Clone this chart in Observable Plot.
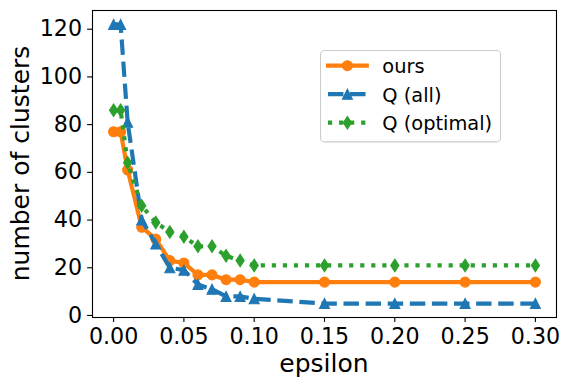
<!DOCTYPE html>
<html><head><meta charset="utf-8">
<script src="https://cdn.jsdelivr.net/npm/d3@7"></script>
<script src="https://cdn.jsdelivr.net/npm/@observablehq/plot@0.6"></script>
<style>body{margin:0;background:#fff} #chart{width:570px;height:387px}</style>
</head><body><div id="chart"></div>
<script>
// ---- data ----
const epsilon = [0, 0.005, 0.01, 0.02, 0.03, 0.04, 0.05, 0.06, 0.07, 0.08, 0.09, 0.1, 0.15, 0.2, 0.25, 0.3];
const ours = [77, 77, 61, 37, 32, 23, 22, 17, 17, 15, 15, 14, 14, 14, 14, 14];
const qAll = [122, 122, 81, 40, 30, 20, 19, 13, 11, 8, 8, 7, 5, 5, 5, 5];
const qOptimal = [86, 86, 64, 46, 39, 35, 33, 29, 29, 25, 23, 21, 21, 21, 21, 21];
const seriesNames = ["ours", "Q (all)", "Q (optimal)"];
const xTicks = [0, 0.05, 0.1, 0.15, 0.2, 0.25, 0.3];
const yTicks = [0, 20, 40, 60, 80, 100, 120];
const xLabel = "epsilon";
const yLabel = "number of clusters";

// ---- styles ----
const W = 570, H = 387;
const mL = 92, mR = 14, mT = 10, mB = 70;
const LW = 4.17;
const TICKFS = 22.2, LABELFS = 25, LEGFS = 19.4;
const tri = {draw(ctx, size){ const h = Math.sqrt(size/Math.PI); ctx.moveTo(0,-h); ctx.lineTo(h,h); ctx.lineTo(-h,h); ctx.closePath(); }};
const thinDiamond = {draw(ctx, size){ const h = Math.sqrt(size/Math.PI); ctx.moveTo(0,-1.25*h); ctx.lineTo(0.82*h,0); ctx.lineTo(0,1.25*h); ctx.lineTo(-0.82*h,0); ctx.closePath(); }};
const styles = [
  {color: "#ff7f0e", dash: null, cap: "square", symbol: "circle"},
  {color: "#1f77b4", dash: `${3.7*LW},${1.6*LW}`, cap: "butt", symbol: tri},
  {color: "#2ca02c", dash: `${1*LW},${1.65*LW}`, cap: "butt", symbol: thinDiamond}
];
const values = [ours, qAll, qOptimal];

const marks = [];
values.forEach((vals, k) => {
  const rows = epsilon.map((e, i) => ({epsilon: e, value: vals[i], series: seriesNames[k]}));
  const s = styles[k];
  marks.push(Plot.line(rows, {x: "epsilon", y: "value", stroke: s.color, strokeWidth: LW,
    strokeDasharray: s.dash, strokeLinecap: s.cap, strokeLinejoin: "round"}));
  marks.push(Plot.dot(rows, {x: "epsilon", y: "value", symbol: () => s.symbol, r: 5,
    fill: s.color, stroke: s.color, strokeWidth: 1.1}));
});
marks.push(Plot.frame({stroke: "black", strokeWidth: 1.1}));
marks.push(Plot.axisX({ticks: xTicks, tickFormat: d3.format(".2f"), tickSize: 4.9, tickPadding: 5.8,
  fontSize: TICKFS, label: null, strokeWidth: 1.1}));
marks.push(Plot.axisY({ticks: yTicks, tickFormat: d3.format("d"), tickSize: 4.9, tickPadding: 5.5,
  fontSize: TICKFS, label: null, strokeWidth: 1.1}));

const chart = Plot.plot({
  width: W, height: H,
  marginLeft: mL, marginRight: mR, marginTop: mT, marginBottom: mB,
  style: {fontFamily: "DejaVu Sans", fontSize: `${TICKFS}px`, color: "black", background: "white"},
  x: {domain: [-0.015, 0.315]},
  y: {domain: [-0.85, 127.85]},
  symbol: {type: "identity"},
  marks
});
document.getElementById("chart").appendChild(chart);

const svg = d3.select(chart);
svg.selectAll('g[aria-label$="tick label"]').attr("font-size", TICKFS)
  .selectAll("text").attr("font-size", TICKFS);
const cx = (mL + W - mR) / 2, cy = (mT + H - mB) / 2;
svg.append("text").text(xLabel)
  .attr("x", cx).attr("y", 372).attr("text-anchor", "middle")
  .attr("font-family", "DejaVu Sans").attr("font-size", LABELFS).attr("fill", "black");
svg.append("text").text(yLabel)
  .attr("transform", `translate(29,${cy}) rotate(-90)`).attr("text-anchor", "middle")
  .attr("font-family", "DejaVu Sans").attr("font-size", LABELFS).attr("fill", "black");

// legend
const lg = svg.append("g");
lg.append("rect").attr("x", 320.5).attr("y", 50.5).attr("width", 180).attr("height", 91.4)
  .attr("rx", 4).attr("fill", "white").attr("fill-opacity", 0.8).attr("stroke", "#cccccc").attr("stroke-width", 1.1);
const rowsY = [65.7, 94.2, 122.7];
seriesNames.forEach((name, k) => {
  const s = styles[k], y = rowsY[k];
  lg.append("line").attr("x1", 328).attr("x2", 366.8).attr("y1", y).attr("y2", y)
    .attr("stroke", s.color).attr("stroke-width", LW)
    .attr("stroke-dasharray", s.dash).attr("stroke-linecap", s.cap);
  const symType = s.symbol === "circle" ? d3.symbolCircle : s.symbol;
  lg.append("path").attr("d", d3.symbol(symType, 25 * Math.PI)())
    .attr("transform", `translate(347.4,${y})`).attr("fill", s.color).attr("stroke", s.color).attr("stroke-width", 1.1);
  lg.append("text").text(name).attr("x", 382.3).attr("y", y + 7.3)
    .attr("text-anchor", "start")
    .attr("font-family", "DejaVu Sans").attr("font-size", LEGFS).attr("fill", "black");
});
</script>
</body></html>
